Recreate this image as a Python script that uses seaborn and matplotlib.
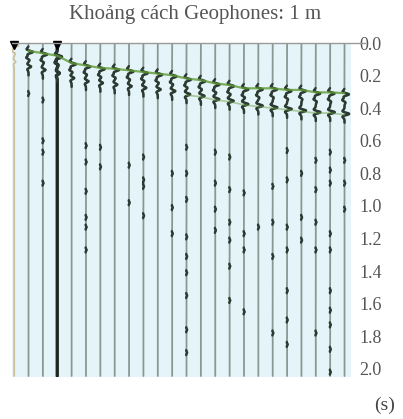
import numpy as np
import pandas as pd
import matplotlib
matplotlib.use("Agg")
import matplotlib.pyplot as plt
import seaborn as sns

# ---------------- data ----------------
offsets = list(range(1, 25))  # geophone positions (m), spacing 1 m
first_break = [0.00, 0.04, 0.055, 0.07, 0.115, 0.13, 0.145, 0.15, 0.16, 0.17, 0.18, 0.19,
               0.21, 0.22, 0.24, 0.25, 0.27, 0.27, 0.27, 0.28, 0.28, 0.295, 0.295, 0.30]
second_arrival = [0.10, 0.13, 0.15, 0.17, 0.20, 0.22, 0.23, 0.24, 0.25, 0.26, 0.27, 0.28,
                  0.30, 0.31, 0.33, 0.34, 0.36, 0.37, 0.38, 0.39, 0.40, 0.41, 0.41, 0.42]
second_amp = [0.1, 0.18, 0.18, 0.15, 0.18, 0.18, 0.18, 0.18, 0.18, 0.2, 0.2, 0.22,
              0.25, 0.25, 0.28, 0.28, 0.3, 0.3, 0.32, 0.32, 0.32, 0.32, 0.32, 0.32]
blip_trace = [2, 3, 3, 3, 3,
              6, 6, 6, 6, 6, 6, 7, 7, 9, 9,
              10, 10, 10, 10, 12, 12, 12,
              13, 13, 13, 13, 13, 13, 13, 13, 13,
              15, 15, 15, 15, 16, 16, 16, 16, 16, 16,
              17, 17, 17, 17, 18, 19, 19, 19, 19,
              20, 20, 20, 20, 20, 20, 20, 21, 21, 21,
              22, 22, 22, 22, 22,
              23, 23, 23, 23, 23, 23, 23, 23, 23, 23,
              24, 24, 24]
blip_time = [0.31, 0.35, 0.60, 0.67, 0.86,
             0.63, 0.73, 0.91, 1.07, 1.13, 1.27, 0.64, 0.76, 0.75, 0.98,
             0.70, 0.84, 0.88, 1.06, 0.80, 1.01, 1.17,
             0.64, 0.80, 0.96, 1.19, 1.31, 1.41, 1.55, 1.76, 1.90,
             0.67, 0.86, 1.02, 1.15, 0.70, 0.90, 1.10, 1.21, 1.37, 1.58,
             0.92, 1.17, 1.27, 1.65, 1.13, 0.88, 1.10, 1.31, 1.78,
             0.66, 0.84, 1.13, 1.27, 1.52, 1.70, 1.85, 0.80, 1.07, 1.21,
             0.72, 0.90, 1.10, 1.27, 1.78,
             0.67, 0.78, 0.86, 1.17, 1.27, 1.52, 1.64, 1.73, 1.88, 2.02,
             0.72, 0.86, 1.02]
ytick_vals = [0.0, 0.2, 0.4, 0.6, 0.8, 1.0, 1.2, 1.4, 1.6, 1.8, 2.0]
title = "Khoảng cách Geophones: 1 m"
unit_label = "(s)"

# ---------------- build traces ----------------
t = np.arange(0.0, 2.045, 0.001)


def ricker(tt, t0, f):
    a = (np.pi * f * (tt - t0)) ** 2
    return (1 - 2 * a) * np.exp(-a)


def env(tt, t0, w):
    return np.exp(-((tt - t0) / w) ** 2)


rows = []
signals = {}
envs = {}
main_sig = {}
for i, x0 in enumerate(offsets):
    s_main = 0.30 * ricker(t, first_break[i] + 0.015, 22) \
        - 0.15 * ricker(t, first_break[i] + 0.05, 24) \
        + second_amp[i] * ricker(t, second_arrival[i] + 0.015, 22)
    s = s_main.copy()
    e = env(t, first_break[i] + 0.025, 0.04) + env(t, second_arrival[i] + 0.02, 0.045)
    for bt, btime in zip(blip_trace, blip_time):
        if bt == x0:
            s += 0.04 * ricker(t, btime, 30)
            e += env(t, btime, 0.014)
    signals[x0] = s
    envs[x0] = e
    main_sig[x0] = s_main
    for tv, sv in zip(t, s):
        rows.append((x0, tv, x0 + sv))
df = pd.DataFrame(rows, columns=["trace", "time", "x"])

# ---------------- figure ----------------
sns.set_style("white")
plt.rcParams["font.family"] = ["Liberation Serif", "DejaVu Serif"]

fig = plt.figure(figsize=(4.03, 4.19), dpi=100)
ax = fig.add_axes([12 / 403, 1 - 377 / 419, (351 - 12) / 403, (377 - 43) / 419])
ax.set_facecolor("#e5f4f8")

trace_palette = {x0: "#8a9894" for x0 in offsets}
trace_palette[1] = "#cdbf98"
trace_palette[4] = "#1f2622"
sns.lineplot(data=df, x="x", y="time", hue="trace", palette=trace_palette,
             units="trace", estimator=None, sort=False, orient="y",
             legend=False, linewidth=1.3, ax=ax)
ax.lines[3].set_linewidth(2.4)

# green fill on the main arrivals
for x0 in offsets[1:]:
    sm = main_sig[x0]
    ax.fill_betweenx(t, x0, x0 + sm, where=sm > 0.02, color="#6aa040",
                     alpha=0.6, linewidth=0)

# dark overlay where energy is present
for x0 in offsets[1:]:
    xs = x0 + signals[x0]
    xs = np.where(envs[x0] > 0.3, xs, np.nan)
    ax.plot(xs, t, color="#2c3a32", linewidth=1.8, solid_capstyle="round")

# first-break pick line (green)
pick = pd.DataFrame({"x": offsets[1:], "time": [v + 0.008 for v in first_break[1:]]})
sns.lineplot(data=pick, x="x", y="time", sort=False, orient="y", estimator=None,
             color="#5f9a36", linewidth=1.6, alpha=0.8, ax=ax)
pick2 = pd.DataFrame({"x": offsets[12:], "time": [v + 0.02 for v in second_arrival[12:]]})
sns.lineplot(data=pick2, x="x", y="time", sort=False, orient="y", estimator=None,
             color="#6aa040", linewidth=1.2, alpha=0.5, ax=ax)

# black triangles at top of traces 1 and 4
ax.plot([offsets[0], offsets[3]], [0.012, 0.012], linestyle="none", marker="v",
        markersize=6, color="black", clip_on=False)

ax.set_xlim(0.85, 24.45)
ax.set_ylim(2.05, 0.0)
ax.set_xticks([])
ax.yaxis.tick_right()
ax.set_yticks(ytick_vals)
ax.set_yticklabels([f"{v:.1f}" for v in ytick_vals], fontsize=13, color="#555555")
ax.tick_params(axis="y", length=0, pad=6)
ax.set_xlabel("")
ax.set_ylabel("")
for side in ["left", "right", "bottom", "top"]:
    ax.spines[side].set_visible(False)
ax.plot([0, 1.04], [1, 1], transform=ax.transAxes, color="#9a9a9a",
        linewidth=1.0, clip_on=False)

fig.text(195 / 403, 1 - 15 / 419, title, ha="center", va="center",
         fontsize=15, color="#555555")
fig.text(385 / 403, 1 - 405 / 419, unit_label, ha="center", va="center",
         fontsize=14, color="#444444")

fig.savefig("out.png", dpi=100)
